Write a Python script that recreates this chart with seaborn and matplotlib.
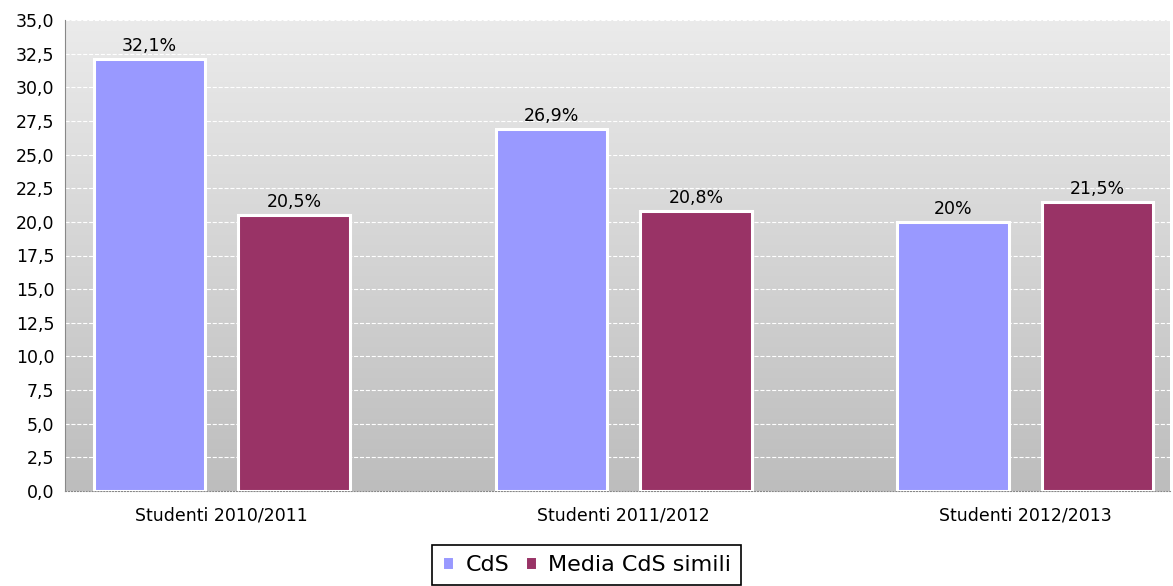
import numpy as np
import pandas as pd
import seaborn as sns
import matplotlib.pyplot as plt
from matplotlib.ticker import FuncFormatter, MultipleLocator

# data
categories = ['Studenti 2010/2011', 'Studenti 2011/2012', 'Studenti 2012/2013']
cds = [32.1, 26.9, 20.0]
media_simili = [20.5, 20.8, 21.5]
bar_labels_cds = ['32,1%', '26,9%', '20%']
bar_labels_media = ['20,5%', '20,8%', '21,5%']

df = pd.DataFrame({
    'anno': categories * 2,
    'valore': cds + media_simili,
    'serie': ['CdS'] * 3 + ['Media CdS simili'] * 3,
})

sns.set_style('white')
plt.rcParams['font.family'] = ['DejaVu Sans']

fig = plt.figure(figsize=(11.73, 5.86), dpi=100)
ax = fig.add_axes([65 / 1173, 1 - 491 / 586, 1105 / 1173, 471 / 586])

# gradient background
grad = np.linspace(0, 1, 256).reshape(-1, 1)
ax.imshow(grad, extent=[0, 1, 0, 1], transform=ax.transAxes, aspect='auto',
          cmap=plt.matplotlib.colors.LinearSegmentedColormap.from_list('bg', ['#bdbdbd', '#ebebeb']),
          origin='lower', zorder=0)

sns.barplot(data=df, x='anno', y='valore', hue='serie', ax=ax,
            palette=['#9999ff', '#993366'], width=0.72, gap=0.23,
            edgecolor='white', linewidth=2.2, saturation=1, zorder=3)

for cont, labs in zip(ax.containers, [bar_labels_cds, bar_labels_media]):
    ax.bar_label(cont, labels=labs, padding=3, fontsize=12.5, color='black')

ax.set_xlim(-0.39, 2.36)
ax.set_ylim(0, 35)
ax.yaxis.set_major_locator(MultipleLocator(2.5))
ax.yaxis.set_major_formatter(FuncFormatter(lambda v, p: f'{v:.1f}'.replace('.', ',')))
ax.grid(axis='y', color='white', linestyle='--', linewidth=0.8, zorder=1)
ax.set_axisbelow(True)
ax.set_xlabel('')
ax.set_ylabel('')

for s in ['top', 'right']:
    ax.spines[s].set_visible(False)
ax.spines['left'].set_color('#888888')
ax.spines['bottom'].set_color('#888888')
ax.spines['bottom'].set_linestyle(':')
ax.tick_params(axis='both', colors='#888888', labelcolor='black', labelsize=12.5, length=4, direction='out')
ax.tick_params(axis='x', pad=7)

handles, labels = ax.get_legend_handles_labels()
ax.get_legend().remove()
leg = fig.legend(handles, labels, loc='upper center', bbox_to_anchor=(0.5, 1 - 545 / 586),
                 ncol=2, frameon=True, fancybox=False, edgecolor='black', fontsize=16,
                 handlelength=0.55, handleheight=0.55, handletextpad=0.5, columnspacing=0.7,
                 borderpad=0.45, borderaxespad=0, framealpha=1)
leg.get_frame().set_linewidth(1.2)
for t in leg.get_texts():
    t.set_color('black')

fig.savefig('out.png', dpi=100)
